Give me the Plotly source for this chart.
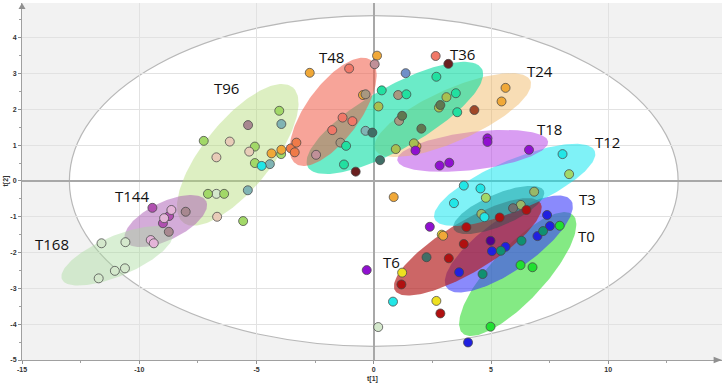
import numpy as np
import plotly.graph_objects as go

# ---------------- data (t[1], t[2] scores, grouped by marker colour) ----------------
pale_x = [-11.61, -10.59, -11.04, -10.61, -11.73, -6.71, 0.19]
pale_y = [-1.74, -1.71, -2.51, -2.44, -2.72, -0.36, -4.08]
magenta_x = [-9.44, -8.73, -8.99]
magenta_y = [-0.75, -0.98, -1.18]
pink_x = [-8.63, -8.94, -9.51, -9.38]
pink_y = [-0.81, -1.04, -1.65, -1.74]
mauve_x = [-8.74, -8.02, -5.36]
mauve_y = [-1.42, -0.86, 1.56]
lime_x = [-7.25, -7.07, -6.38, -5.57, -5.07, -5.07, -3.95, -4.03, 4.78, 8.33]
lime_y = [1.12, -0.36, -0.36, -1.12, 0.96, 0.50, 0.75, 1.96, -0.47, 0.19]
olivegreen_x = [6.84, 6.27, 4.59]
olivegreen_y = [-0.30, -0.67, -0.92]
beige_x = [-6.14, -6.71, -5.31, -6.68]
beige_y = [1.10, 0.66, 0.82, -1.00]
tealgray_x = [-3.94, -5.37, -4.43, -0.35]
tealgray_y = [1.59, -0.26, 0.47, 1.40]
cyan_x = [-4.78, 3.84, 4.55, 3.42, 8.05, 4.72, 0.82]
cyan_y = [0.42, -0.13, -0.21, -0.62, 0.75, -1.01, -3.37]
yellow_x = [1.21, 2.67, 2.90]
yellow_y = [-2.56, -3.35, -1.50]
orange_x = [-4.36, -3.94, -2.73, 0.14, -0.46, 1.82, 5.62, 5.45, 0.85, 2.96]
orange_y = [0.77, 0.87, 3.02, 3.50, 2.40, 0.97, 2.60, 2.22, -0.45, -1.53]
coral_x = [-3.54, -3.37, -3.30]
coral_y = [0.91, 0.80, 1.07]
salmon_x = [-1.05, -1.33, -0.91, -1.77, 2.64]
salmon_y = [3.14, 1.77, 1.67, 1.42, 3.49]
rosy_x = [-2.46, 0.04]
rosy_y = [0.73, 3.26]
taupe_x = [-0.35, 1.04, 1.08, -1.42]
taupe_y = [2.42, 2.40, 1.68, 1.07]
mint_x = [-1.18, -1.27, 0.34, 1.39, 2.67, 3.50, 3.56]
mint_y = [0.98, 0.46, 2.53, 2.42, 2.91, 2.45, 1.92]
steel_x = [1.36]
steel_y = [3.01]
olive_x = [0.20, 0.94, 1.71, 3.10, 2.78]
olive_y = [2.08, 0.89, 1.05, 2.34, 2.05]
darkolive_x = [1.21, 2.03, 2.84]
darkolive_y = [1.82, 1.46, 2.12]
darkteal_x = [-0.06, 0.27, 2.25]
darkteal_y = [1.35, 0.58, -2.13]
maroon_x = [3.18, -0.77]
maroon_y = [3.27, 0.26]
brown_x = [4.29]
brown_y = [1.98]
purple_x = [1.78, 2.81, 3.22, 4.85, 4.85, 6.62, 2.39, -0.30]
purple_y = [0.85, 0.43, 0.51, 1.19, 1.09, 0.87, -1.28, -2.49]
indigo_x = [4.98]
indigo_y = [-1.67]
red_x = [5.37, 6.51, 3.95, 3.84, 3.20, 1.18, 2.84]
red_y = [-1.02, -0.81, -1.29, -1.76, -2.16, -2.89, -3.70]
gray_x = [5.94]
gray_y = [-0.76]
blue_x = [7.39, 7.51, 6.98, 5.62, 5.04, 3.64, 4.02]
blue_y = [-0.95, -1.26, -1.54, -1.84, -1.96, -2.55, -4.51]
seagreen_x = [7.22, 6.30, 5.42, 4.64]
seagreen_y = [-1.40, -1.67, -1.95, -2.60]
green_x = [7.93, 6.26, 6.77, 4.98]
green_y = [-1.25, -2.35, -2.41, -4.07]

# group confidence ellipses: centre (t1, t2), semi-axes (in t[1] units, screen space), angle (deg)
ell_cx = [6.14, 5.76, 4.01, 5.33, 6.01, 4.22, 3.37, 0.90, -1.73, -5.80, -8.87, -10.94]
ell_cy = [-2.60, -1.76, -1.84, -0.81, -0.11, 0.84, 1.84, 1.76, 1.93, 0.73, -1.12, -2.09]
ell_a = [3.45, 3.24, 3.62, 2.09, 3.71, 3.24, 3.62, 4.26, 2.73, 3.71, 1.92, 2.56]
ell_b = [1.15, 1.11, 1.07, 0.68, 1.07, 0.81, 1.11, 1.32, 1.15, 1.45, 0.81, 0.85]
ell_ang = [47, 35, 31, 23, 23, 7, 24, 29.5, 54, 51, 26, 23]

# Hotelling T2 ellipse semi-axes
hot_a, hot_b = 12.98, 4.62

label_text = ["T168", "T144", "T96", "T48", "T36", "T24", "T18", "T12", "T3", "T0", "T6"]
label_x = [-13.73, -10.32, -6.27, -1.82, 3.79, 7.10, 7.48, 9.96, 9.13, 9.08, 0.77]
label_y = [-1.77, -0.41, 2.61, 3.46, 3.55, 3.06, 1.45, 1.09, -0.50, -1.53, -2.26]

x_ticks = [-15, -10, -5, 0, 5, 10]
y_ticks = [-5, -4, -3, -2, -1, 0, 1, 2, 3, 4]

# ---------------- styling ----------------
W, H = 726, 383
M = dict(l=22, r=4, t=3, b=23)
x_range = [-15, 14.85]
y_range = [-5, 4.97]
PW, PH = W - M["l"] - M["r"], H - M["t"] - M["b"]
px_x = PW / (x_range[1] - x_range[0])
px_y = PH / (y_range[1] - y_range[0])

ell_colors = [
    "rgba(50,220,50,0.6)",
    "rgba(60,60,250,0.6)",
    "rgba(180,30,30,0.68)",
    "rgba(50,80,80,0.5)",
    "rgba(0,230,240,0.5)",
    "rgba(180,60,230,0.5)",
    "rgba(240,180,90,0.45)",
    "rgba(0,220,160,0.58)",
    "rgba(240,90,70,0.55)",
    "rgba(180,220,120,0.45)",
    "rgba(170,90,180,0.5)",
    "rgba(170,220,160,0.45)",
]

groups = [
    (pale_x, pale_y, "#d4e8cc"),
    (magenta_x, magenta_y, "#b050b0"),
    (pink_x, pink_y, "#e4b4d8"),
    (mauve_x, mauve_y, "#a88890"),
    (lime_x, lime_y, "#a2d868"),
    (olivegreen_x, olivegreen_y, "#98b868"),
    (beige_x, beige_y, "#e8ccb8"),
    (tealgray_x, tealgray_y, "#80b4b4"),
    (cyan_x, cyan_y, "#22e6e6"),
    (yellow_x, yellow_y, "#eee020"),
    (orange_x, orange_y, "#f0a838"),
    (coral_x, coral_y, "#f07a48"),
    (salmon_x, salmon_y, "#f07868"),
    (rosy_x, rosy_y, "#c09098"),
    (taupe_x, taupe_y, "#a89880"),
    (mint_x, mint_y, "#22e0a0"),
    (steel_x, steel_y, "#7090c8"),
    (olive_x, olive_y, "#a8c050"),
    (darkolive_x, darkolive_y, "#607850"),
    (darkteal_x, darkteal_y, "#406e66"),
    (maroon_x, maroon_y, "#6a2020"),
    (brown_x, brown_y, "#a04828"),
    (purple_x, purple_y, "#9010d0"),
    (indigo_x, indigo_y, "#500090"),
    (red_x, red_y, "#b01010"),
    (gray_x, gray_y, "#707070"),
    (blue_x, blue_y, "#2020e0"),
    (seagreen_x, seagreen_y, "#109070"),
    (green_x, green_y, "#20e030"),
]

fig = go.Figure()

t = np.linspace(0, 2 * np.pi, 160)
for cx, cy, a, b, ang, col in zip(ell_cx, ell_cy, ell_a, ell_b, ell_ang, ell_colors):
    th = np.radians(ang)
    ap, bp = a * px_x, b * px_x
    dx = ap * np.cos(t) * np.cos(th) - bp * np.sin(t) * np.sin(th)
    dy = ap * np.cos(t) * np.sin(th) + bp * np.sin(t) * np.cos(th)
    fig.add_trace(go.Scatter(
        x=cx + dx / px_x, y=cy + dy / px_y, mode="lines", fill="toself",
        fillcolor=col, line=dict(width=0), hoverinfo="skip", showlegend=False))

for gx, gy, col in groups:
    fig.add_trace(go.Scatter(
        x=gx, y=gy, mode="markers", showlegend=False,
        marker=dict(size=9, color=col, line=dict(width=1, color="rgba(70,70,70,0.75)"))))

shapes = [
    dict(type="circle", xref="x", yref="y", x0=-hot_a, x1=hot_a, y0=-hot_b, y1=hot_b,
         fillcolor="white", line=dict(color="#b8b8b8", width=1.2), layer="below"),
    dict(type="path", xref="paper", yref="paper",
         path="M -0.005,0.983 L 0.005,0.983 L 0,1.0 Z", fillcolor="#909090",
         line=dict(width=0)),
    dict(type="path", xref="paper", yref="paper",
         path="M 0.988,-0.009 L 0.988,0.009 L 1.0,0 Z", fillcolor="#909090",
         line=dict(width=0)),
]

annotations = [
    dict(x=x, y=y, text=s, showarrow=False, xref="x", yref="y",
         font=dict(family="Open Sans", size=15, color="#111"))
    for s, x, y in zip(label_text, label_x, label_y)
]
annotations += [
    dict(x=0.5, y=-18.5 / PH, xref="paper", yref="paper", yanchor="middle",
         text="t[1]", showarrow=False,
         font=dict(family="Liberation Sans", size=7, color="#333", weight="bold")),
    dict(x=-17 / PW, y=0.5, xref="paper", yref="paper", xanchor="center",
         text="t[2]", showarrow=False, textangle=-90,
         font=dict(family="Liberation Sans", size=7, color="#333", weight="bold")),
]

tickfont = dict(family="Liberation Sans", size=7, color="#333", weight="bold")
fig.update_layout(
    width=W, height=H, margin=M,
    paper_bgcolor="white", plot_bgcolor="#f2f2f2",
    shapes=shapes, annotations=annotations,
    xaxis=dict(range=x_range, tickmode="array", tickvals=x_ticks,
               ticktext=[str(v) for v in x_ticks], tickfont=tickfont,
               showgrid=True, gridcolor="#e2e2e2", gridwidth=1,
               zeroline=True, zerolinecolor="#a8a8a8", zerolinewidth=1.5,
               showline=True, linecolor="#a0a0a0", linewidth=1,
               ticks="outside", ticklen=3, tickcolor="#909090",
               minor=dict(tick0=0, dtick=2.5, ticks="outside", ticklen=2,
                          tickcolor="#a0a0a0", showgrid=False),
               automargin=False, fixedrange=True),
    yaxis=dict(range=y_range, tickmode="array", tickvals=y_ticks,
               ticktext=[str(v) for v in y_ticks], tickfont=tickfont,
               showgrid=True, gridcolor="#e2e2e2", gridwidth=1,
               zeroline=True, zerolinecolor="#a8a8a8", zerolinewidth=1.5,
               showline=True, linecolor="#a0a0a0", linewidth=1,
               ticks="outside", ticklen=3, tickcolor="#909090",
               minor=dict(tick0=0, dtick=0.5, ticks="outside", ticklen=2,
                          tickcolor="#a0a0a0", showgrid=False),
               automargin=False, fixedrange=True),
)

fig.write_html("out.html", config={"displayModeBar": False},
               post_script="document.body.style.margin='0';document.body.style.overflow='hidden';")
